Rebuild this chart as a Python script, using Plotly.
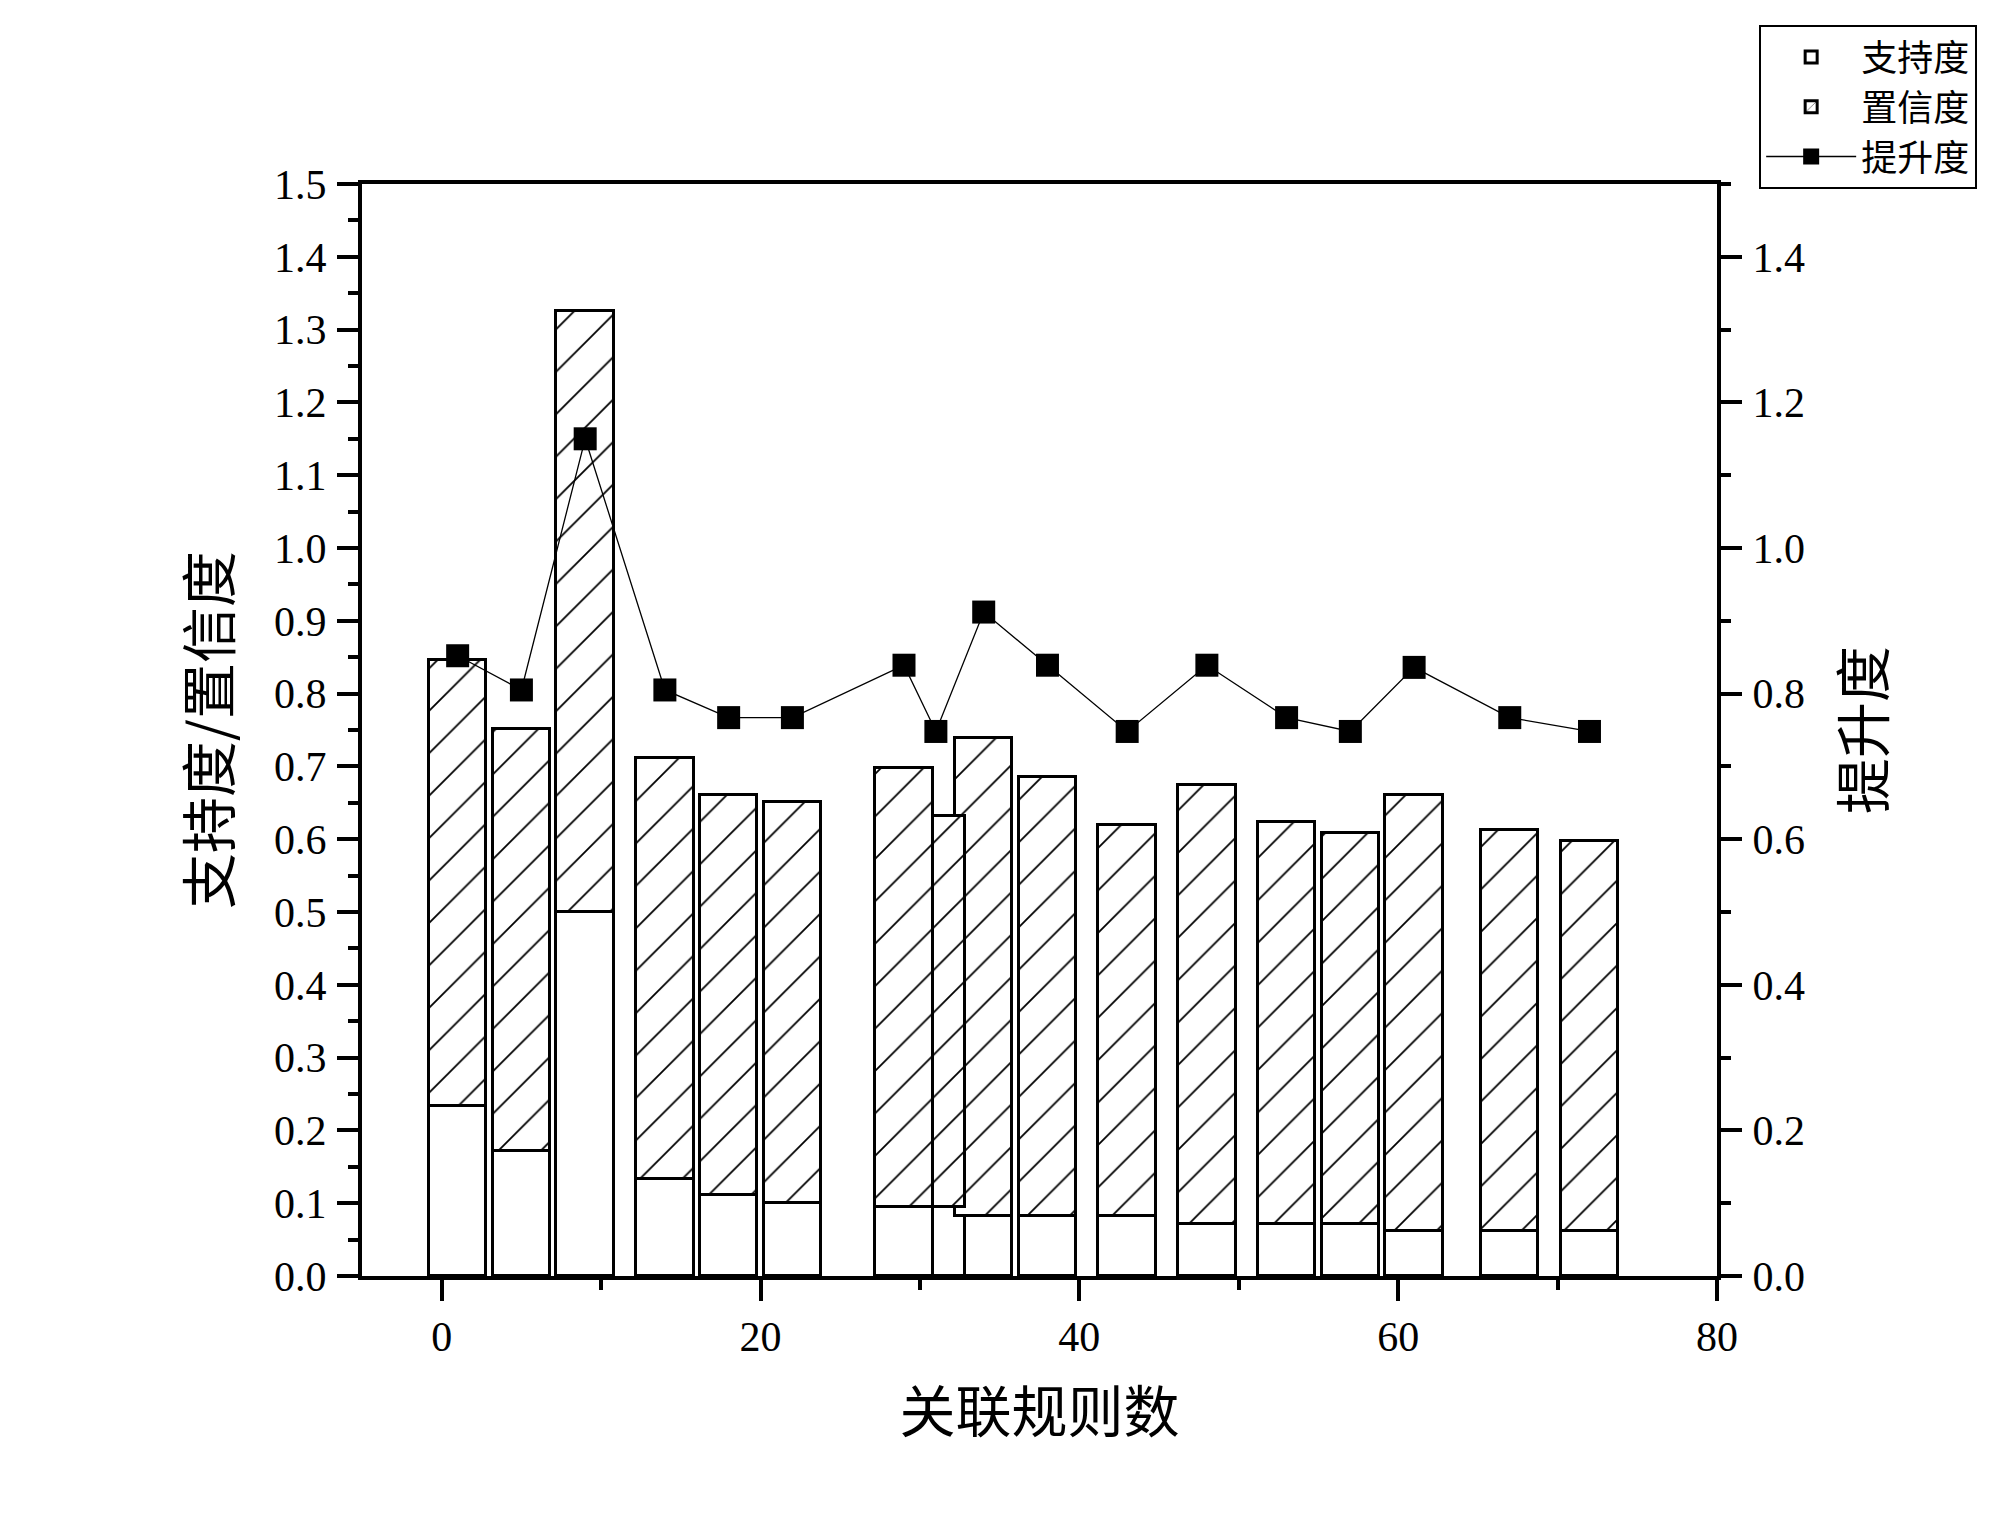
import plotly.graph_objects as go

# ---- data ----
rule_x = [1, 5, 9, 14, 18, 22, 29, 31, 34, 38, 43, 48, 53, 57, 61, 67, 72]
support = [0.234, 0.172, 0.500, 0.133, 0.111, 0.100, 0.095, 0.095, 0.083, 0.083,
           0.083, 0.071, 0.071, 0.071, 0.062, 0.062, 0.062]
confidence = [0.612, 0.580, 0.826, 0.578, 0.550, 0.551, 0.603, 0.537, 0.656, 0.603,
              0.536, 0.603, 0.552, 0.538, 0.599, 0.550, 0.536]
lift = [0.852, 0.805, 1.150, 0.805, 0.767, 0.767, 0.839, 0.748, 0.912, 0.839,
        0.748, 0.839, 0.767, 0.748, 0.836, 0.767, 0.748]

name_support = "支持度"
name_conf = "置信度"
name_lift = "提升度"
x_title = "关联规则数"
y_title = "支持度/置信度"
y2_title = "提升度"

CJK = "Noto Sans CJK SC"
NUM = "Liberation Serif"
BAR_W = 3.6

# reversed order so that earlier bars are drawn on top (as in the reference)
rx = rule_x[::-1]
rs = support[::-1]
rc = confidence[::-1]

fig = go.Figure()
fig.add_trace(go.Bar(
    x=rx, y=rs, width=BAR_W, name=name_support,
    marker=dict(color="white", line=dict(color="black", width=3)),
))
fig.add_trace(go.Bar(
    x=rx, y=rc, width=BAR_W, name=name_conf,
    marker=dict(color="white", line=dict(color="black", width=3),
                pattern=dict(shape="/", fgcolor="black", bgcolor="white",
                             fgopacity=1, size=30, solidity=0.06)),
))
fig.add_trace(go.Scatter(
    x=rule_x, y=lift, name=name_lift, yaxis="y2", mode="lines+markers",
    line=dict(color="black", width=1.3),
    marker=dict(symbol="square", size=23, color="black"),
))

axis_common = dict(
    showline=True, linecolor="black", linewidth=4,
    ticks="outside", ticklen=21, tickwidth=4, tickcolor="black",
    showgrid=False, zeroline=False, automargin=False,
    tickfont=dict(family=NUM, size=42, color="black"),
)

fig.update_layout(
    width=1984, height=1523,
    margin=dict(l=354, r=275, t=176, b=255),
    paper_bgcolor="white", plot_bgcolor="white",
    barmode="stack", bargap=0,
    xaxis=dict(
        **axis_common, range=[-5, 80], tick0=0, dtick=20, mirror=True,
        minor=dict(ticks="outside", ticklen=10, tickwidth=4, tickcolor="black", dtick=10, tick0=0),
        ticklabelstandoff=0,
        title=dict(text=x_title, font=dict(family=CJK, size=56, color="black"), standoff=34),
    ),
    yaxis=dict(
        **axis_common, range=[0, 1.5], tick0=0, dtick=0.1, tickformat=".1f",
        minor=dict(ticks="outside", ticklen=10, tickwidth=4, tickcolor="black", dtick=0.05, tick0=0),
        ticklabelstandoff=2,
        title=dict(text=y_title, font=dict(family=CJK, size=56, color="black"), standoff=26),
    ),
    yaxis2=dict(
        **axis_common, range=[0, 1.5], tick0=0, dtick=0.2, tickformat=".1f",
        overlaying="y", side="right",
        minor=dict(ticks="outside", ticklen=10, tickwidth=4, tickcolor="black", dtick=0.1, tick0=0),
        ticklabelstandoff=2,
        title=dict(text=y2_title, font=dict(family=CJK, size=56, color="black"), standoff=42),
    ),
    legend=dict(
        x=1.192, xanchor="right", y=1.1456, yanchor="top",
        bgcolor="white", bordercolor="black", borderwidth=2,
        font=dict(family=CJK, size=36, color="black"),
        itemwidth=90, traceorder="normal", tracegroupgap=0,
    ),
    showlegend=True,
)

fig.write_html("out.html")
